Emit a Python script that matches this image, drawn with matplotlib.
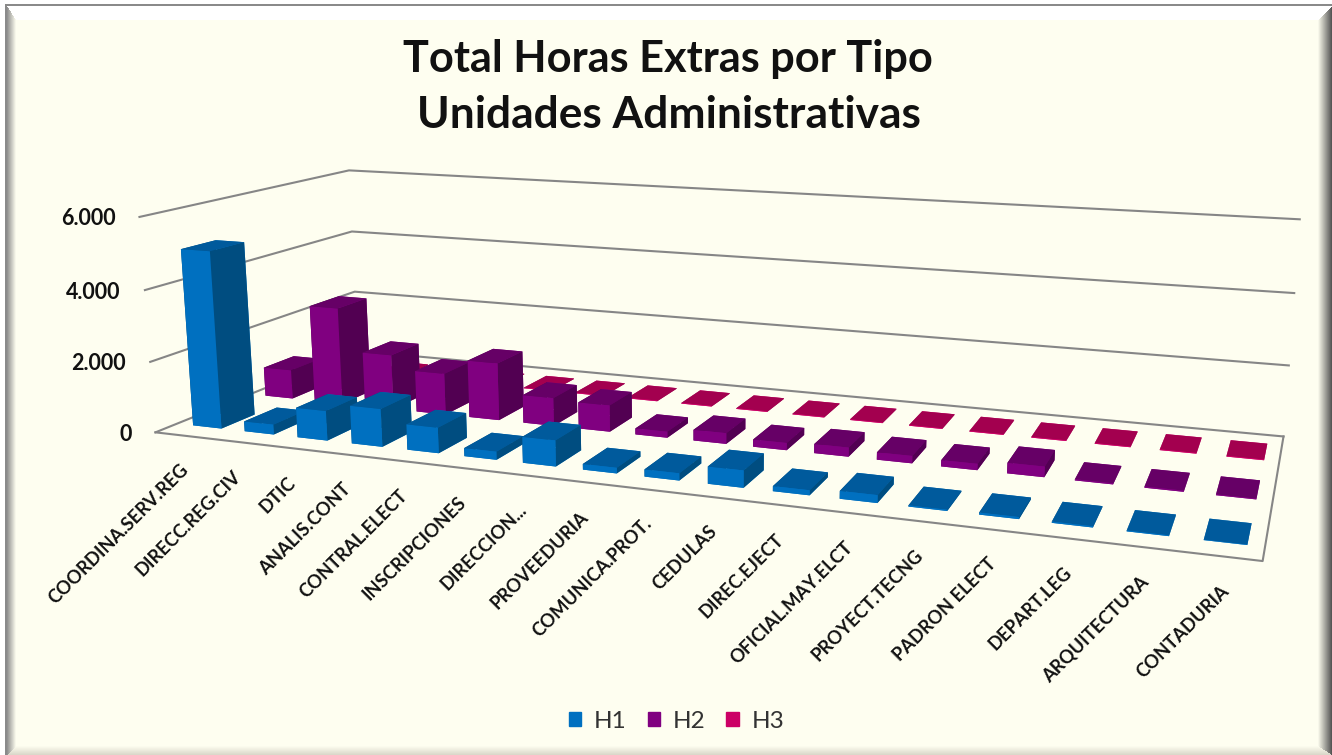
import numpy as np
import matplotlib
matplotlib.use('Agg')
import matplotlib.pyplot as plt
from matplotlib.colors import to_rgb
from matplotlib.patches import Patch
from mpl_toolkits.mplot3d import proj3d

plt.rcParams['font.family'] = ['Lato', 'DejaVu Sans']

categories = ['COORDINA.SERV.REG', 'DIRECC.REG.CIV', 'DTIC', 'ANALIS.CONT', 'CONTRAL.ELECT',
              'INSCRIPCIONES', 'DIRECCION...', 'PROVEEDURIA', 'COMUNICA.PROT.', 'CEDULAS',
              'DIREC.EJECT', 'OFICIAL.MAY.ELCT', 'PROYECT.TECNG', 'PADRON ELECT', 'DEPART.LEG',
              'ARQUITECTURA', 'CONTADURIA']
h1 = [5000, 280, 830, 1050, 700, 220, 700, 150, 190, 450, 130, 200, 30, 50, 30, 20, 10]
h2 = [860, 2850, 1600, 1200, 1650, 800, 750, 170, 300, 200, 250, 200, 170, 280, 30, 30, 20]
h3 = [30, 30, 20, 20, 20, 20, 20, 20, 20, 20, 20, 20, 20, 20, 20, 20, 20]
series = ['H1', 'H2', 'H3']
yticks = [0, 2000, 4000, 6000]
ylabels = ['0', '2.000', '4.000', '6.000']

W, H = 1332, 755
S = 1400
fig = plt.figure(figsize=(W / 100, H / 100), dpi=100, facecolor='#fefef0')

# bevelled frame of the chart area
yy, xx = np.mgrid[0:H, 0:W] + 0.5
cream = np.array(to_rgb('#fefef0'))
bg = np.ones((H, W, 3)) * cream
bands = [((xx - 7) / 9, '#8c8c8c'), ((yy - 6) / 14, '#ffffff'), ((W - xx) / 14, '#505050'), ((H - yy) / 9, '#d8d6c8')]
dist = np.stack([b[0] for b in bands])
which = dist.argmin(axis=0)
near = np.clip(dist.min(axis=0), 0, 1)
for n, (_, c) in enumerate(bands):
    m = which == n
    t = near[m][:, None] if n != 1 else np.where(near[m] < 1, 0, 1)[:, None]
    bg[m] = np.array(to_rgb(c)) * (1 - t) + cream * t
bg[(xx < 7) | (yy < 6)] = to_rgb('#8a8a8a')
bg[(xx < 5) | (yy < 4)] = (1, 1, 1)
ax0 = fig.add_axes([0, 0, 1, 1])
ax0.imshow(bg, aspect='auto')
ax0.set_axis_off()

# camera values fitted to the corners of the reference's floor and walls
elev, azim = 12.6009, -69.7350
box = np.array([1.4249, 0.5050, 0.2928])
focal = 0.2266
cx, cy = 717.1057, 327.7785

ax = fig.add_axes([0, 0, S / W, S / H], projection='3d')
ax.set_xlim(0, 17, view_margin=0)
ax.set_ylim(0, 3, view_margin=0)
ax.set_zlim(0, 6000, view_margin=0)
ax.view_init(elev=elev, azim=azim)
ax.set_box_aspect(box, zoom=np.linalg.norm(box) / (1.8294640721620434 * 25 / 24))
ax.set_proj_type('persp', focal_length=focal)
x0, y0, x1, y1 = ax.viewLim.extents
k = S / (x1 - x0)
ax.set_position([(cx + k * x0) / W, (H - (cy - k * y0)) / H, S / W, S / H])
ax.set_axis_off()
ax.computed_zorder = False
ax.patch.set_visible(False)

gc = '#868686'
for v in yticks:
    ax.plot([0, 0, 17], [0, 3, 3], [v, v, v], color=gc, lw=1.5, zorder=1, clip_on=False)
ax.plot([0, 17, 17], [0, 0, 3], [0, 0, 0], color=gc, lw=1.5, zorder=1, clip_on=False)

faces = [['#0070c0', '#005a9c', '#004d80'], ['#800080', '#660066', '#520052'], ['#cc0066', '#a3004f', '#8a0043']]
w, d = 0.55, 0.45
z = 2
for s in [2, 1, 0]:
    vals = [h1, h2, h3][s]
    f, t, sd = faces[s]
    for i, v in enumerate(vals):
        ax.bar3d(0.31 + i * 0.995, s + (1 - d) / 2, 0, w, d, v, shade=False,
                 color=[f, t, f, f, sd, sd], zorder=z)
        z += 1

M = ax.get_proj()
for v, t in zip(yticks, ylabels):
    xp, yp, _ = proj3d.proj_transform(0, 0, v, M)
    ax.annotate(t, (xp, yp), xytext=(-24, -2), textcoords='offset pixels', ha='right', va='center',
                annotation_clip=False, fontsize=15.5, fontweight='bold', color='#111111')
for i, c in enumerate(categories):
    xp, yp, _ = proj3d.proj_transform(i + 0.5, 0, 0, M)
    ax.annotate(c, (xp, yp), xytext=(-2, -26), textcoords='offset pixels', rotation=45, ha='right', va='top',
                rotation_mode='anchor', annotation_clip=False, fontsize=13.2, fontweight='bold', color='#111111')

fig.text(0.5015, 1 - 72 / H, 'Total Horas Extras por Tipo', ha='center', va='baseline', fontsize=31.15, fontweight='bold', color='#111111')
fig.text(0.5025, 1 - 128 / H, 'Unidades Administrativas', ha='center', va='baseline', fontsize=31.9, fontweight='bold', color='#111111')
handles = [Patch(color=c, label=n) for c, n in zip(['#0070c0', '#800080', '#cc0066'], series)]
fig.legend(handles=handles, ncol=3, loc='center', bbox_to_anchor=(0.508, 1 - 721 / H), frameon=False, fontsize=17.5,
           handlelength=0.5, handleheight=0.5, columnspacing=0.85, handletextpad=0.55, labelcolor='#333333')
fig.savefig('out.png', dpi=100)
